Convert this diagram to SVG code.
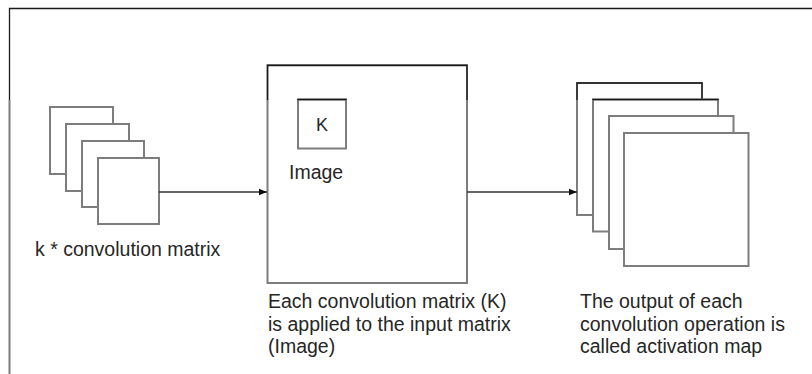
<svg xmlns="http://www.w3.org/2000/svg" width="812" height="374" viewBox="0 0 812 374">
  <defs>
    <style>
      .sheet{fill:#fff;stroke:#7d7d7d;stroke-width:2}
      .edge{fill:none;stroke:#1a1a1a;stroke-width:1.3}
      .frame{fill:none;stroke:#7d7d7d;stroke-width:2}
      .link{fill:none;stroke:#333;stroke-width:1.3;marker-end:url(#head)}
      text{font-family:"Liberation Sans",Arial,Helvetica,sans-serif;font-size:19.5px;fill:#262626}
    </style>
    <marker id="head" viewBox="0 0 10 10" refX="10" refY="5" markerWidth="8" markerHeight="8" markerUnits="userSpaceOnUse" orient="auto">
      <path d="M0,1 L10,5 L0,9 Z" fill="#111"/>
    </marker>
  </defs>

  <rect width="812" height="374" fill="#fff"/>

  <!-- outer frame: dark top section, softer grey below -->
  <g id="frame">
    <path class="frame" d="M9.5,100 V374"/>
    <path class="edge" d="M9.5,100 V8.5 H812"/>
  </g>

  <!-- stack of convolution kernels -->
  <g id="kernels">
    <rect class="sheet" x="50" y="107" width="63" height="67"/>
    <rect class="sheet" x="66" y="124" width="63" height="67"/>
    <rect class="sheet" x="82" y="141" width="62" height="66"/>
    <rect class="sheet" x="98" y="158" width="61" height="66"/>
    <text x="35" y="256">k * convolution matrix</text>
  </g>

  <!-- input image with kernel window -->
  <g id="image">
    <rect class="sheet" x="267.5" y="65" width="199.5" height="218"/>
    <path class="edge" d="M267.5,100 V65.5 H467 V100"/>
    <rect class="sheet" x="298" y="99.5" width="48" height="49"/>
    <path class="edge" d="M298,100 V99.5 H346 V100"/>
    <text x="322" y="131" text-anchor="middle" style="font-size:18px">K</text>
    <text x="289" y="179">Image</text>
    <text x="268" y="307.5">Each convolution matrix (K)</text>
    <text x="268" y="330.5">is applied to the input matrix</text>
    <text x="268" y="353">(Image)</text>
  </g>

  <!-- stack of activation maps -->
  <g id="maps">
    <rect class="sheet" x="577" y="83" width="125" height="132"/>
    <path class="edge" d="M577,100 V83 H702 V100"/>
    <rect class="sheet" x="593" y="99.5" width="125" height="132"/>
    <path class="edge" d="M593,100 V99.5 H718 V100"/>
    <rect class="sheet" x="609" y="116" width="124.5" height="133"/>
    <rect class="sheet" x="624" y="133" width="124.5" height="133"/>
    <text x="580" y="307.5">The output of each</text>
    <text x="580" y="330.5">convolution operation is</text>
    <text x="580" y="353">called activation map</text>
  </g>

  <!-- connectors -->
  <g id="connectors">
    <path class="link" d="M159,192 H267"/>
    <path class="link" d="M467,192 H577"/>
  </g>
</svg>
